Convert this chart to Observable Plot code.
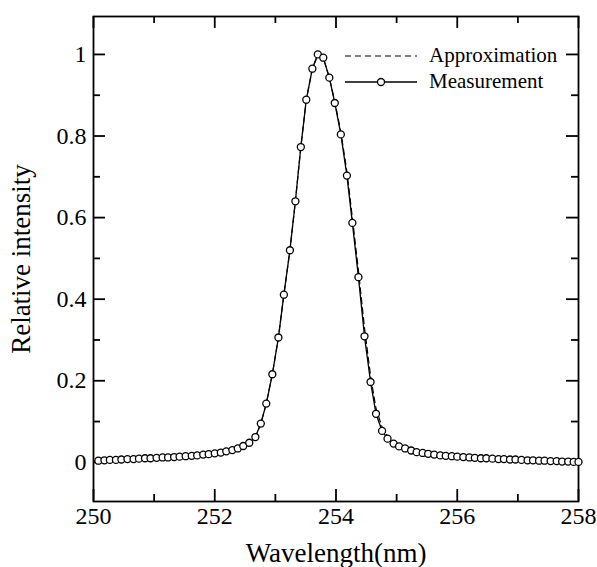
<!DOCTYPE html>
<html>
<head>
<meta charset="utf-8">
<script src="https://cdn.jsdelivr.net/npm/d3@7"></script>
<script src="https://cdn.jsdelivr.net/npm/@observablehq/plot@0.6"></script>
<style>
  html, body { margin: 0; padding: 0; background: #fff; }
  #wrap { width: 597px; height: 567px; }
  #wrap svg text { font-family: 'Liberation Serif', 'DejaVu Serif', serif; }
</style>
</head>
<body>
<div id="wrap"></div>
<script>
const wavelength = [
  250.08,250.18,250.27,250.37,250.46,250.56,250.66,250.75,250.85,250.94,
  251.04,251.14,251.23,251.33,251.42,251.52,251.62,251.71,251.81,251.90,
  252.00,252.10,252.19,252.29,252.38,252.47,252.57,252.67,252.76,252.85,
  252.95,253.05,253.14,253.24,253.33,253.42,253.51,253.61,253.70,253.79,
  253.89,253.98,254.08,254.18,254.27,254.37,254.47,254.57,254.66,254.76,
  254.85,254.95,255.04,255.14,255.24,255.33,255.43,255.52,255.62,255.72,
  255.81,255.91,256.00,256.10,256.20,256.29,256.39,256.48,256.58,256.68,
  256.77,256.87,256.96,257.06,257.16,257.25,257.35,257.44,257.54,257.64,
  257.73,257.83,257.92,258.00
];
const measurement = [
  0.004,0.005,0.006,0.006,0.007,0.008,0.008,0.009,0.010,0.010,
  0.011,0.012,0.012,0.013,0.014,0.015,0.016,0.017,0.019,0.020,
  0.022,0.024,0.027,0.030,0.034,0.040,0.048,0.062,0.095,0.144,
  0.216,0.306,0.411,0.520,0.640,0.773,0.889,0.965,1.000,0.992,
  0.943,0.881,0.804,0.703,0.587,0.454,0.309,0.197,0.119,0.077,
  0.058,0.046,0.039,0.034,0.029,0.025,0.023,0.021,0.019,0.017,
  0.016,0.015,0.014,0.013,0.012,0.011,0.010,0.010,0.009,0.008,
  0.008,0.007,0.007,0.006,0.005,0.005,0.004,0.004,0.003,0.003,
  0.002,0.002,0.001,0.001
];
const approximation = [
  0.004,0.005,0.006,0.006,0.007,0.008,0.008,0.009,0.010,0.010,
  0.011,0.012,0.012,0.013,0.014,0.015,0.016,0.017,0.019,0.020,
  0.022,0.024,0.027,0.030,0.034,0.040,0.048,0.062,0.095,0.144,
  0.216,0.306,0.411,0.520,0.640,0.773,0.889,0.965,1.000,0.992,
  0.943,0.884,0.810,0.712,0.600,0.470,0.330,0.212,0.132,0.086,
  0.063,0.047,0.039,0.034,0.029,0.025,0.023,0.021,0.019,0.017,
  0.016,0.015,0.014,0.013,0.012,0.011,0.010,0.010,0.009,0.008,
  0.008,0.007,0.007,0.006,0.005,0.005,0.004,0.004,0.003,0.003,
  0.002,0.002,0.001,0.001
];
const xMajor = [250, 252, 254, 256, 258];
const xMinor = [251, 253, 255, 257];
const yMajor = [0, 0.2, 0.4, 0.6, 0.8, 1];
const yMinor = [0.1, 0.3, 0.5, 0.7, 0.9];
const yLabels = ["0", "0.2", "0.4", "0.6", "0.8", "1"];
const legendLabels = ["Approximation", "Measurement"];
const xTitle = "Wavelength(nm)";
const yTitle = "Relative intensity";

const meas = wavelength.map((x, i) => ({x, y: measurement[i]}));
const appr = wavelength.map((x, i) => ({x, y: approximation[i]}));

const FONT = "'Liberation Serif', 'DejaVu Serif', serif";
const W = 597, H = 567, ML = 93, MR = 19, MT = 16, MB = 66;
const FW = W - ML - MR, FH = H - MT - MB;
const MAJ = 12, MIN = 7;
const TS = {stroke: "#000", strokeWidth: 1.8};

// legend drawn inside the Plot svg (render-function mark)
function legendMark(index, scales, values, dims) {
  const g = d3.create("svg:g").attr("font-family", FONT).attr("text-anchor", "start");
  const x0 = dims.marginLeft + 252, x1 = x0 + 72, xt = dims.marginLeft + 336;
  const rows = [
    {label: legendLabels[0], y: dims.marginTop + 40, dash: "6,4", dot: false},
    {label: legendLabels[1], y: dims.marginTop + 66, dash: null, dot: true}
  ];
  rows.forEach(r => {
    g.append("line").attr("x1", x0).attr("x2", x1).attr("y1", r.y).attr("y2", r.y)
      .attr("stroke", "#000").attr("stroke-width", r.dot ? 1.3 : 1.2)
      .attr("stroke-dasharray", r.dash);
    if (r.dot) g.append("circle").attr("cx", (x0 + x1) / 2).attr("cy", r.y).attr("r", 3.5)
      .attr("fill", "#fff").attr("stroke", "#000").attr("stroke-width", 1.3);
    g.append("text").attr("x", xt).attr("y", r.y + 6).attr("text-anchor", "start")
      .attr("font-size", 21).attr("fill", "#000").text(r.label);
  });
  return g.node();
}

const chart = Plot.plot({
  width: W,
  height: H,
  marginLeft: ML,
  marginRight: MR,
  marginTop: MT,
  marginBottom: MB,
  style: {fontFamily: FONT, background: "#fff", color: "#000"},
  x: {domain: [250, 258], axis: null, label: null},
  y: {domain: [-0.096, 1.093], axis: null, label: null},
  marks: [
    Plot.frame({stroke: "#000", fill: "none", strokeWidth: 1.8}),
    // inward ticks on all four sides
    Plot.tickX(xMajor, {x: d => d, insetTop: FH - MAJ, ...TS}),
    Plot.tickX(xMinor, {x: d => d, insetTop: FH - MIN, ...TS}),
    Plot.tickX(xMajor, {x: d => d, insetBottom: FH - MAJ, ...TS}),
    Plot.tickX(xMinor, {x: d => d, insetBottom: FH - MIN, ...TS}),
    Plot.tickY(yMajor, {y: d => d, insetRight: FW - MAJ, ...TS}),
    Plot.tickY(yMinor, {y: d => d, insetRight: FW - MIN, ...TS}),
    Plot.tickY(yMajor, {y: d => d, insetLeft: FW - MAJ, ...TS}),
    Plot.tickY(yMinor, {y: d => d, insetLeft: FW - MIN, ...TS}),
    // tick labels
    Plot.axisX(xMajor, {anchor: "bottom", label: null, tickSize: 0, tickPadding: 5, fontSize: 24, fontFamily: FONT, tickFormat: d => String(d)}),
    Plot.axisY(yMajor, {anchor: "left", label: null, tickSize: 0, tickPadding: 7, fontSize: 24, fontFamily: FONT, tickFormat: (d, i) => yLabels[i]}),
    // axis titles
    Plot.text([xTitle], {frameAnchor: "bottom", dy: 52, textAnchor: "middle", lineAnchor: "middle", fontSize: 27, fontFamily: FONT, fill: "#000"}),
    Plot.text([yTitle], {frameAnchor: "left", dx: -72, rotate: -90, textAnchor: "middle", lineAnchor: "middle", fontSize: 27, fontFamily: FONT, fill: "#000"}),
    // data
    Plot.line(appr, {x: "x", y: "y", stroke: "#000", strokeWidth: 1.2, strokeDasharray: "6,4"}),
    Plot.line(meas, {x: "x", y: "y", stroke: "#000", strokeWidth: 1.3}),
    Plot.dot(meas, {x: "x", y: "y", r: 3.5, fill: "#fff", stroke: "#000", strokeWidth: 1.3}),
    legendMark
  ]
});

document.getElementById("wrap").appendChild(chart);
</script>
</body>
</html>
